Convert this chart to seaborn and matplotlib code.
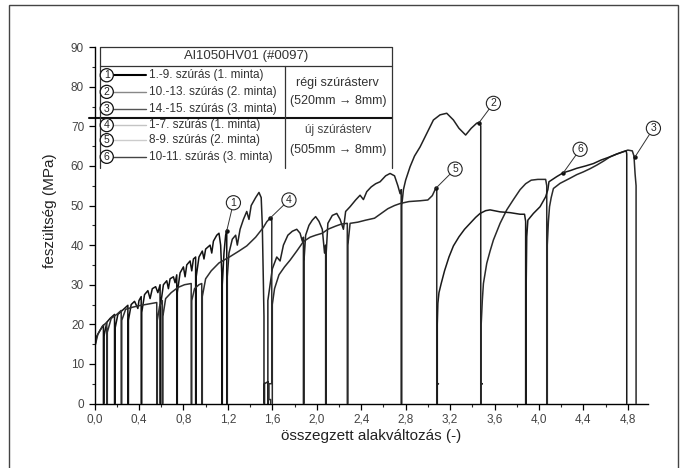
import matplotlib
matplotlib.use("Agg")
import matplotlib.pyplot as plt
import seaborn as sns
from matplotlib.patches import Rectangle
from matplotlib.ticker import MultipleLocator, FuncFormatter

# ---------------- data ----------------
# series 1: 1.-9. szúrás (1. minta), old plan
S1_X = [0.00, 0.02, 0.05, 0.08, 0.08,
        0.085, 0.085, 0.11, 0.14, 0.18, 0.18,
        0.185, 0.185, 0.21, 0.25, 0.30, 0.30,
        0.305, 0.305, 0.33, 0.36, 0.39, 0.40, 0.42, 0.42,
        0.425, 0.425, 0.45, 0.48, 0.50, 0.52, 0.55, 0.57, 0.59, 0.59,
        0.595, 0.595, 0.62, 0.65, 0.665, 0.68, 0.71, 0.725, 0.74, 0.74,
        0.745, 0.745, 0.77, 0.80, 0.815, 0.83, 0.86, 0.875, 0.89, 0.91, 0.91,
        0.915, 0.915, 0.94, 0.97, 0.985, 1.00, 1.04, 1.055, 1.07, 1.10, 1.12, 1.135, 1.145, 1.145,
        1.15, 1.15, 1.165, 1.18, 1.19, 1.19]
S1_Y = [14, 17, 18.5, 19.8, 0,
        0, 17, 20.5, 21.5, 22.5, 0,
        0, 19, 22.5, 23.5, 24.8, 0,
        0, 21, 25, 25.8, 24.0, 26.0, 27, 0,
        0, 23, 27.5, 28.5, 26.5, 29, 29.5, 28, 30, 0,
        0, 25, 30, 31, 29, 31.5, 32, 30.5, 32.5, 0,
        0, 28, 33, 34.5, 32, 35, 36, 33.5, 36.5, 37, 0,
        0, 32, 37, 38.5, 36.5, 39, 40, 38, 41, 42.5, 43, 40, 33, 0,
        0, 30, 38, 42.5, 43.8, 0]

# series 2: 10.-13. szúrás (2. minta), old plan
S2_X = [1.195, 1.195, 1.21, 1.24, 1.27, 1.285, 1.31, 1.34, 1.37, 1.39, 1.41, 1.45, 1.48, 1.50, 1.51, 1.52, 1.525, 1.525,
        1.53, 1.53, 1.56, 1.56, 1.56, 1.60, 1.64, 1.67, 1.70, 1.74, 1.78, 1.82, 1.85, 1.87, 1.88, 1.88,
        1.885, 1.885, 1.90, 1.93, 1.96, 1.99, 2.02, 2.05, 2.07, 2.08, 2.08,
        2.085, 2.085, 2.10, 2.14, 2.18, 2.21, 2.24, 2.26, 2.30, 2.35, 2.39, 2.42, 2.45, 2.49, 2.53, 2.57, 2.62,
        2.66, 2.70, 2.73, 2.75, 2.76, 2.76,
        2.765, 2.765, 2.78, 2.80, 2.84, 2.88, 2.93, 2.99, 3.05, 3.11, 3.17, 3.23, 3.28, 3.34, 3.39, 3.44,
        3.47, 3.476, 3.476, 3.476, 3.49, 3.476, 3.476]
S2_Y = [0, 32, 38, 41.5, 42.5, 40, 44, 46.5, 48.5, 46.5, 50, 52, 53.3, 52, 45, 30, 22, 0,
        0, 5, 5.5, 0, 26, 34, 37, 36, 40, 42.5, 43.5, 44, 43, 41, 42, 0,
        0, 36, 42.5, 45, 46.3, 47.2, 46, 44, 38, 40, 0,
        0, 38, 45.5, 47.5, 48, 46.5, 44, 48.5, 49.7, 51.4, 52.6, 51.5, 53.5, 54.7, 55.5, 56, 57.5,
        58.1, 57.5, 55, 53, 54, 0,
        0, 50, 54, 56.4, 59.8, 62.5, 64.8, 68.2, 71.6, 72.9, 73.3, 71.6, 69.5, 67.8, 69.5, 70.8,
        71, 70, 5, 5, 5, 5, 0]

# series 3: 14.-15. szúrás (3. minta), old plan
S3_X = [3.48, 3.48, 3.49, 3.50, 3.53, 3.56, 3.59, 3.65, 3.71, 3.77, 3.83, 3.88, 3.93, 3.99, 4.06, 4.07, 4.07,
        4.075, 4.075, 4.085, 4.095, 4.11, 4.13, 4.19, 4.28, 4.34, 4.40, 4.46, 4.52, 4.58, 4.64, 4.70, 4.76,
        4.80, 4.84, 4.855, 4.865, 4.874, 4.874]
S3_Y = [0, 20, 26, 30.3, 35.4, 38.5, 41.3, 45.5, 48.9, 51.5, 54, 55.5, 56.4, 56.6, 56.6, 55, 0,
        0, 40, 46, 49.7, 52, 54.3, 55.6, 56.9, 57.8, 58.5, 59.3, 60.2, 61.2, 62.3, 63, 63.6,
        64, 63.8, 62.5, 58, 55, 0]

# series 4: 1-7. szúrás (1. minta), new plan
S4_X = [0.00, 0.03, 0.07, 0.11, 0.11,
        0.115, 0.115, 0.15, 0.20, 0.24, 0.24,
        0.245, 0.245, 0.28, 0.34, 0.40, 0.46, 0.52, 0.56, 0.56,
        0.565, 0.565, 0.585, 0.61, 0.61,
        0.615, 0.615, 0.64, 0.69, 0.75, 0.81, 0.87, 0.87,
        0.875, 0.875, 0.90, 0.94, 0.965, 0.965,
        0.97, 0.97, 1.00, 1.05, 1.12, 1.22, 1.30, 1.37, 1.45, 1.52, 1.55, 1.58, 1.595,
        1.595, 1.57, 1.57, 1.585, 1.585]
S4_Y = [14, 17.5, 19.5, 20.5, 0,
        0, 18, 21.5, 22.5, 23.5, 0,
        0, 21, 23.8, 24.3, 24.7, 25, 25.3, 25.5, 0,
        0, 21, 24.5, 26, 0,
        0, 22, 26.5, 28, 29.3, 30, 30.3, 0,
        0, 26, 29, 30, 30.3, 0,
        0, 27, 31.5, 33.5, 35.5, 37.1, 38.5, 39.8, 42, 44.5, 45.9, 46.8, 47,
        5, 5, 1, 1, 0]

# series 5: 8-9. szúrás (2. minta), new plan
S5_X = [1.60, 1.60, 1.62, 1.66, 1.71, 1.76, 1.82, 1.88, 1.94, 1.99, 2.05, 2.10, 2.17, 2.22, 2.27, 2.275, 2.275,
        2.28, 2.28, 2.30, 2.37, 2.44, 2.52, 2.58, 2.64, 2.70, 2.75, 2.83, 2.93, 3.00, 3.04, 3.07, 3.08,
        3.08, 3.095, 3.08, 3.08]
S5_Y = [0, 25, 29, 32.5, 34.5, 36.2, 38.5, 40.9, 42, 42.5, 43, 44, 44.8, 45.3, 45.5, 45.5, 0,
        0, 40, 45.5, 45.8, 46.3, 46.8, 48, 49.2, 50, 50.5, 51, 51.2, 51.4, 52.5, 54.3, 54,
        5, 5, 5, 0]

# series 6: 10-11. szúrás (3. minta), new plan
S6_X = [3.085, 3.085, 3.09, 3.10, 3.12, 3.15, 3.19, 3.23, 3.28, 3.33, 3.38, 3.43, 3.47, 3.52, 3.56, 3.65, 3.74,
        3.83, 3.87, 3.88, 3.88,
        3.885, 3.885, 3.89, 3.90, 3.95, 4.01, 4.06, 4.08, 4.09, 4.16, 4.22, 4.28, 4.34, 4.42, 4.49, 4.56,
        4.64, 4.70, 4.76, 4.785, 4.79, 4.79]
S6_Y = [0, 20, 25.3, 28, 30.3, 33.5, 37, 39.8, 42.1, 44, 45.5, 47, 48, 48.7, 48.9, 48.4, 48.2,
        47.8, 47.8, 46, 0,
        0, 30, 42.1, 46.3, 48, 49.7, 52.2, 54, 56, 57.3, 58.3, 58.8, 59.4, 60, 60.6, 61.5,
        62.3, 63, 63.6, 63.8, 63, 0]

SERIES_LABELS = ["1.-9. szúrás (1. minta)", "10.-13. szúrás (2. minta)", "14.-15. szúrás (3. minta)",
                 "1-7. szúrás (1. minta)", "8-9. szúrás (2. minta)", "10-11. szúrás (3. minta)"]
PLAN_LABELS = ["régi szúrásterv", "(520mm \u2192 8mm)", "új szúrásterv", "(505mm \u2192 8mm)"]
TITLE = "Al1050HV01 (#0097)"
X_TICKS = [0.0, 0.4, 0.8, 1.2, 1.6, 2.0, 2.4, 2.8, 3.2, 3.6, 4.0, 4.4, 4.8]
Y_TICKS = [0, 10, 20, 30, 40, 50, 60, 70, 80, 90]

# ---------------- styling ----------------
sns.set_style("ticks")
plt.rcParams["font.family"] = ["Liberation Sans", "DejaVu Sans"]

fig = plt.figure(figsize=(6.86, 4.68), dpi=100)
ax = fig.add_axes([0.1378, 0.1378, 0.8066, 0.7615])

curve_colors = ["#111111", "#222222", "#2a2a2a", "#2e2e2e", "#2a2a2a", "#1a1a1a"]
series = [(S1_X, S1_Y), (S2_X, S2_Y), (S3_X, S3_Y), (S4_X, S4_Y), (S5_X, S5_Y), (S6_X, S6_Y)]
for (xs, ys), c in zip(series, curve_colors):
    sns.lineplot(x=xs, y=ys, sort=False, estimator=None, color=c, lw=1.1, ax=ax)

ax.set_xlim(0, 4.98)
ax.set_ylim(0, 90)
ax.set_xticks(X_TICKS)
ax.set_yticks(Y_TICKS)
ax.xaxis.set_minor_locator(MultipleLocator(0.2))
ax.yaxis.set_minor_locator(MultipleLocator(5))
ax.xaxis.set_major_formatter(FuncFormatter(lambda v, p: f"{v:.1f}".replace(".", ",")))
ax.tick_params(which="major", direction="out", length=4, width=0.9, labelsize=8.5, colors="#000000",
               labelcolor="#444444")
ax.tick_params(which="minor", direction="out", length=2.5, width=0.8)
for s in ["top", "right"]:
    ax.spines[s].set_visible(False)
for s in ["left", "bottom"]:
    ax.spines[s].set_linewidth(1.0)
    ax.spines[s].set_color("#000000")

ax.set_xlabel("összegzett alakváltozás (-)", fontsize=11, color="#222222", labelpad=2)
ax.set_ylabel("feszültség (MPa)", fontsize=11, color="#222222")
ax.yaxis.set_label_coords(-0.068, 0.54)

# ---------------- annotations with circled numbers ----------------
ANNOT = [("1", (1.19, 43.6), (1.25, 50.7)),
         ("2", (3.46, 70.9), (3.59, 75.8)),
         ("3", (4.865, 62.3), (5.03, 69.5)),
         ("4", (1.58, 46.8), (1.75, 51.4)),
         ("5", (3.07, 54.3), (3.245, 59.2)),
         ("6", (4.22, 58.3), (4.37, 64.2))]
for lab, pt, txt in ANNOT:
    ax.annotate(lab, xy=pt, xytext=txt, fontsize=7.5, ha="center", va="center", annotation_clip=False,
                bbox=dict(boxstyle="circle,pad=0.2", fc="white", ec="#222222", lw=0.8),
                arrowprops=dict(arrowstyle="-", lw=0.7, color="#333333", shrinkA=0, shrinkB=0))
    ax.plot([pt[0]], [pt[1]], "o", ms=2.2, color="#111111")

# ---------------- legend table ----------------
tl, tr, tdiv = 0.05, 2.68, 1.715
ttop, ttitle, tmid, tbot = 90.0, 85.2, 72.1, 59.5
lc = "#333333"
ax.plot([tl, tr], [ttop, ttop], color=lc, lw=0.9, clip_on=False)
ax.plot([tl, tr], [ttitle, ttitle], color=lc, lw=0.9)
ax.plot([-0.05, tr], [tmid, tmid], color="#111111", lw=1.5, clip_on=False)
ax.plot([tl, tl], [tbot, ttop], color=lc, lw=0.9)
ax.plot([tr, tr], [tbot, ttop], color=lc, lw=0.9)
ax.plot([tdiv, tdiv], [tbot, ttitle], color=lc, lw=0.9)
ax.text((tl + tr) / 2, 87.7, TITLE, ha="center", va="center", fontsize=9.5, color="#333333")

row_y = [82.9, 78.7, 74.5, 70.3, 66.5, 62.3]
leg_colors = ["#000000", "#888888", "#555555", "#c4c4c4", "#cccccc", "#444444"]
leg_lw = [1.5, 1.0, 1.0, 1.0, 1.0, 1.0]
for i, (lab, yv) in enumerate(zip(SERIES_LABELS, row_y)):
    ax.plot([0.14, 0.46], [yv, yv], color=leg_colors[i], lw=leg_lw[i])
    ax.text(0.11, yv, str(i + 1), ha="center", va="center", fontsize=7.5,
            bbox=dict(boxstyle="circle,pad=0.15", fc="white", ec="#111111", lw=0.9))
    ax.text(0.49, yv, lab, ha="left", va="center", fontsize=8.5, color="#333333")

ax.text(2.19, 80.9, PLAN_LABELS[0], ha="center", va="center", fontsize=9, color="#333333")
ax.text(2.19, 76.5, PLAN_LABELS[1], ha="center", va="center", fontsize=9, color="#333333")
ax.text(2.19, 69.1, PLAN_LABELS[2], ha="center", va="center", fontsize=8.5, color="#444444")
ax.text(2.19, 64.0, PLAN_LABELS[3], ha="center", va="center", fontsize=9, color="#333333")

# outer frame of the figure
fig.add_artist(Rectangle((9 / 686, -0.02), 669 / 686, 463 / 468 + 0.02, transform=fig.transFigure,
                         fill=False, ec="#444444", lw=1.0))

fig.savefig("out.png", dpi=100)
